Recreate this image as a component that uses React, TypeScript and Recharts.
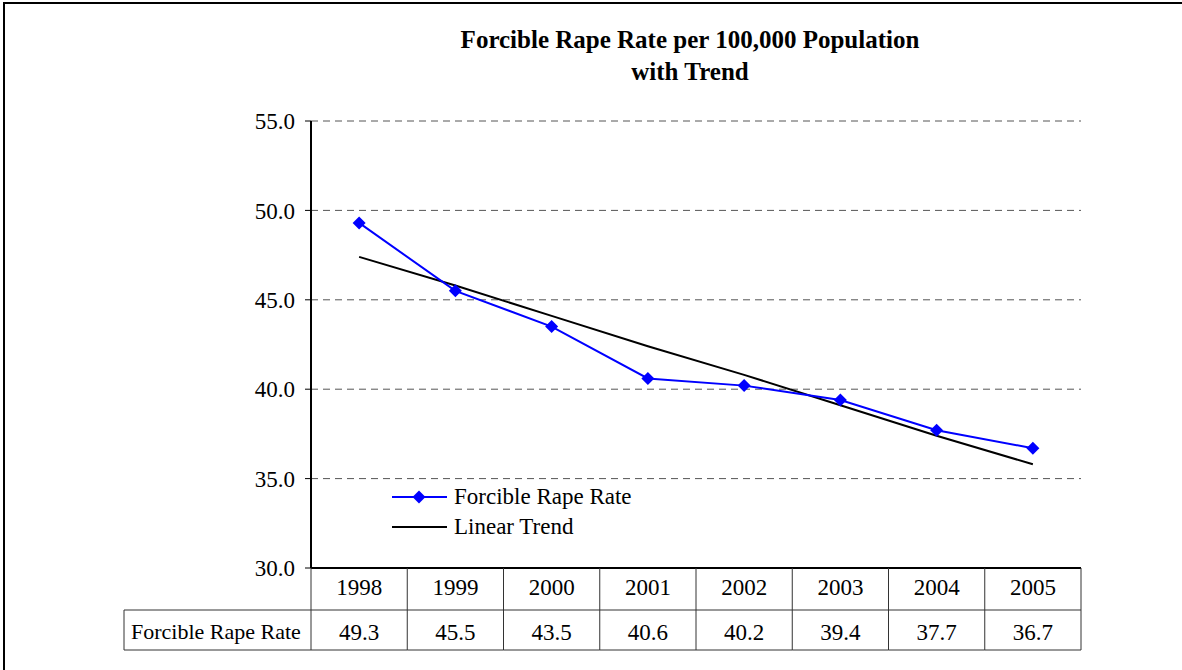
import { CartesianGrid, ComposedChart, Legend, Line, XAxis, YAxis } from "recharts"

const YEARS = ["1998", "1999", "2000", "2001", "2002", "2003", "2004", "2005"]
const RATE = [49.3, 45.5, 43.5, 40.6, 40.2, 39.4, 37.7, 36.7]
// trend values
const TREND = [47.4, 45.8, 44.1, 42.4, 40.8, 39.1, 37.4, 35.8]
const Y_TICKS = [30, 35, 40, 45, 50, 55]
const SERIES_LABEL = "Forcible Rape Rate"
const TREND_LABEL = "Linear Trend"

const BLUE = "#0000FF"
const FONT = "'Liberation Serif', 'Times New Roman', serif"

const data = YEARS.map((year, i) => ({ year, rate: RATE[i], trend: TREND[i] }))

const PLOT_W = 770
const CELL = PLOT_W / YEARS.length
const LABEL_X = 124

function Diamond(props: any) {
  const { cx, cy, index } = props
  if (cx == null || cy == null) return <g key={index} />
  const r = 6.5
  return (
    <path
      key={index}
      d={`M${cx},${cy - r}L${cx + r},${cy}L${cx},${cy + r}L${cx - r},${cy}Z`}
      fill={BLUE}
    />
  )
}

function TableTick(props: any) {
  const { x, y, index, payload } = props
  const h = CELL / 2
  const rowY = y + 42
  const botY = y + 82
  const ln = { stroke: "#333", strokeWidth: 1 }
  return (
    <g>
      <line x1={x + h} y1={y} x2={x + h} y2={botY} {...ln} />
      {index === 0 && (
        <>
          <line x1={x - h} y1={y} x2={x - h} y2={botY} {...ln} />
          <line x1={LABEL_X} y1={rowY} x2={x - h} y2={rowY} {...ln} />
          <line x1={LABEL_X} y1={botY} x2={x - h} y2={botY} {...ln} />
          <line x1={LABEL_X} y1={rowY} x2={LABEL_X} y2={botY} {...ln} />
          <text x={LABEL_X + 7} y={y + 71} fontSize={22} fontFamily={FONT} fill="#000">
            {SERIES_LABEL}
          </text>
        </>
      )}
      <line x1={x - h} y1={rowY} x2={x + h} y2={rowY} {...ln} />
      <line x1={x - h} y1={botY} x2={x + h} y2={botY} {...ln} />
      <text x={x} y={y + 27} textAnchor="middle" fontSize={23} fontFamily={FONT} fill="#000">
        {payload.value}
      </text>
      <text x={x} y={y + 72} textAnchor="middle" fontSize={23} fontFamily={FONT} fill="#000">
        {RATE[index].toFixed(1)}
      </text>
    </g>
  )
}

function LegendBox(props: any) {
  const items = [...(props.payload ?? [])].sort((a: any) => (a.dataKey === "rate" ? -1 : 1))
  return (
    <div style={{ fontFamily: FONT, fontSize: 23 }}>
      {items.map((it: any) => (
        <div key={it.dataKey} style={{ display: "flex", alignItems: "center", height: 30 }}>
          <svg width={56} height={16} style={{ marginRight: 6 }}>
            <line x1={0} y1={8} x2={55} y2={8} stroke={it.color} strokeWidth={2} />
            {it.dataKey === "rate" && <path d="M27,1.5L33.5,8L27,14.5L20.5,8Z" fill={BLUE} />}
          </svg>
          <span>{it.value}</span>
        </div>
      ))}
    </div>
  )
}

export default function App() {
  return (
    <div
      style={{
        position: "absolute",
        left: 0,
        top: 0,
        width: 1182,
        height: 670,
        overflow: "hidden",
        background: "#fff",
        fontFamily: FONT,
      }}
    >
      <div
        style={{
          position: "absolute",
          left: 3,
          top: 2,
          width: 1179,
          height: 668,
          borderLeft: "2px solid #000",
          borderTop: "2px solid #000",
        }}
      />
      <div
        style={{
          position: "absolute",
          left: 0,
          top: 24,
          width: 1380,
          textAlign: "center",
          fontWeight: "bold",
          fontSize: 25,
          lineHeight: "32px",
        }}
      >
        Forcible Rape Rate per 100,000 Population
        <br />
        with Trend
      </div>
      <div style={{ position: "absolute", left: 0, top: 0 }}>
        <ComposedChart
          width={1182}
          height={670}
          data={data}
          margin={{ top: 121, right: 101, bottom: 20, left: 251 }}
        >
          <CartesianGrid vertical={false} stroke="#555" strokeDasharray="7 5" />
          <XAxis
            dataKey="year"
            scale="band"
            interval={0}
            tickLine={false}
            tickSize={0}
            tickMargin={0}
            height={82}
            axisLine={{ stroke: "#000", strokeWidth: 2 }}
            tick={TableTick}
          />
          <YAxis
            domain={[30, 55]}
            ticks={Y_TICKS}
            width={60}
            tickSize={6}
            tickMargin={10}
            tickFormatter={(v: number) => v.toFixed(1)}
            axisLine={{ stroke: "#000", strokeWidth: 2 }}
            tickLine={{ stroke: "#000" }}
            tick={{ fontSize: 23, fontFamily: FONT, fill: "#000" }}
          />
          <YAxis
            yAxisId="edge"
            orientation="right"
            domain={[30, 55]}
            width={0}
            tick={false}
            tickLine={false}
            axisLine={{ stroke: "#666", strokeWidth: 1.5 }}
          />
          <Legend
            layout="vertical"
            align="center"
            verticalAlign="middle"
            content={<LegendBox />}
            wrapperStyle={{ left: 392, top: 482, width: 300 }}
          />
          <Line
            dataKey="trend"
            name={TREND_LABEL}
            stroke="#000"
            strokeWidth={2}
            dot={false}
            activeDot={false}
            isAnimationActive={false}
          />
          <Line
            dataKey="rate"
            name={SERIES_LABEL}
            stroke={BLUE}
            strokeWidth={2}
            dot={Diamond}
            activeDot={false}
            isAnimationActive={false}
          />
        </ComposedChart>
      </div>
    </div>
  )
}
